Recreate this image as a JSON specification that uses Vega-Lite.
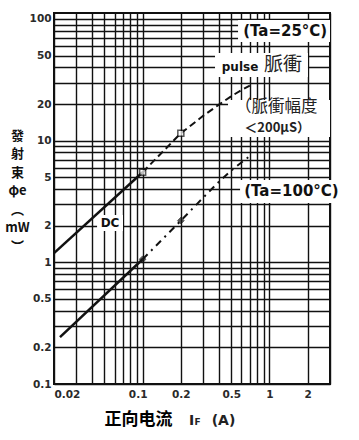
{
  "$schema": "https://vega.github.io/schema/vega-lite/v6.json",
  "width": 276,
  "height": 371,
  "autosize": {"type": "none"},
  "padding": {"left": 54, "top": 13, "right": 29, "bottom": 56},
  "background": "white",
  "config": {
    "view": {"stroke": "#111", "strokeWidth": 2},
    "axis": {
      "grid": true, "gridColor": "#111", "gridWidth": 1.4, "gridOpacity": 1,
      "ticks": false, "domain": false,
      "labelFont": "DejaVu Sans", "labelFontWeight": "bold", "labelFontSize": 10.5, "labelColor": "#2a2a2a"
    }
  },
  "datasets": {
    "curves": [
      {"Ta": "25", "mode": "DC", "x": 0.02, "y": 1.19},
      {"Ta": "25", "mode": "DC", "x": 0.1, "y": 5.5},
      {"Ta": "25", "mode": "pulse", "x": 0.1, "y": 5.5},
      {"Ta": "25", "mode": "pulse", "x": 0.2, "y": 11.5},
      {"Ta": "25", "mode": "pulse", "x": 0.3, "y": 16},
      {"Ta": "25", "mode": "pulse", "x": 0.4, "y": 19.8},
      {"Ta": "25", "mode": "pulse", "x": 0.5, "y": 23.2},
      {"Ta": "25", "mode": "pulse", "x": 0.6, "y": 26},
      {"Ta": "25", "mode": "pulse", "x": 0.7, "y": 28.3},
      {"Ta": "100", "mode": "DC", "x": 0.0223, "y": 0.243},
      {"Ta": "100", "mode": "DC", "x": 0.1, "y": 1.06},
      {"Ta": "100", "mode": "pulse", "x": 0.1, "y": 1.06},
      {"Ta": "100", "mode": "pulse", "x": 0.2, "y": 2.2},
      {"Ta": "100", "mode": "pulse", "x": 0.3, "y": 3.4},
      {"Ta": "100", "mode": "pulse", "x": 0.4, "y": 4.6},
      {"Ta": "100", "mode": "pulse", "x": 0.5, "y": 5.7},
      {"Ta": "100", "mode": "pulse", "x": 0.68, "y": 7.3}
    ],
    "markers": [
      {"Ta": "25", "x": 0.1, "y": 5.5},
      {"Ta": "25", "x": 0.2, "y": 11.5},
      {"Ta": "100", "x": 0.1, "y": 1.06},
      {"Ta": "100", "x": 0.2, "y": 2.2}
    ],
    "boxes": [
      {"x": 0.565, "x2": 3.0, "y": 97.9, "y2": 64.6},
      {"x": 0.372, "x2": 2.01, "y": 52.5, "y2": 33.3},
      {"x": 0.471, "x2": 3.0, "y": 21.6, "y2": 10.7},
      {"x": 0.586, "x2": 3.94, "y": 4.75, "y2": 3.07},
      {"x": 0.0437, "x2": 0.07, "y": 2.45, "y2": 1.81}
    ]
  },
  "encoding": {
    "x": {
      "field": "x", "type": "quantitative",
      "scale": {"type": "log", "domain": [0.02, 3], "nice": false},
      "axis": {
        "values": [0.02, 0.03, 0.04, 0.05, 0.06, 0.07, 0.08, 0.09, 0.1, 0.2, 0.3, 0.4, 0.5, 0.6, 0.7, 0.8, 0.9, 1, 2, 3],
        "labelExpr": "indexof([0.02,0.05,0.1,0.2,0.5,1,2], datum.value) >= 0 ? '' + datum.value : ''",
        "labelPadding": 5,
        "labelOffset": {"condition": [{"test": "datum.value == 0.05", "value": -14}, {"test": "datum.value == 0.1", "value": -5}], "value": 0},
        "title": "正向电流",
        "titleFont": "Noto Sans CJK SC", "titleFontSize": 17, "titleFontWeight": "bold", "titleColor": "#000",
        "titleX": 84, "titleY": 35, "titleAlign": "center", "titleBaseline": "middle"
      }
    },
    "y": {
      "field": "y", "type": "quantitative",
      "scale": {"type": "log", "domain": [0.1, 112], "nice": false},
      "axis": {
        "values": [0.1, 0.2, 0.3, 0.4, 0.5, 0.6, 0.7, 0.8, 0.9, 1, 2, 3, 4, 5, 6, 7, 8, 9, 10, 20, 30, 40, 50, 60, 70, 80, 90, 100],
        "labelExpr": "indexof([0.1,0.2,0.5,1,2,5,10,20,50,100], datum.value) >= 0 ? '' + datum.value : ''",
        "labelPadding": 3,
        "title": ["發", "射", "束", "φe", "︵", "mW", "︶"],
        "titleAngle": 0, "titleFont": "Noto Sans CJK TC", "titleFontSize": 13, "titleFontWeight": "bold", "titleColor": "#111",
        "titleLineHeight": 18.5, "titleX": -37, "titleY": 122, "titleAlign": "center", "titleBaseline": "middle"
      }
    }
  },
  "layer": [
    {
      "data": {"name": "boxes"},
      "mark": {"type": "rect", "fill": "white"},
      "encoding": {"x2": {"field": "x2"}, "y2": {"field": "y2"}}
    },
    {
      "data": {"name": "curves"},
      "transform": [{"filter": "datum.mode == 'DC'"}],
      "mark": {"type": "line", "color": "#111", "strokeWidth": 2.5},
      "encoding": {"detail": {"field": "Ta"}}
    },
    {
      "data": {"name": "curves"},
      "transform": [{"filter": "datum.mode == 'pulse' && datum.Ta == '25'"}],
      "mark": {"type": "line", "color": "#111", "strokeWidth": 2, "strokeDash": [7, 4]},
      "encoding": {}
    },
    {
      "data": {"name": "curves"},
      "transform": [{"filter": "datum.mode == 'pulse' && datum.Ta == '100'"}],
      "mark": {"type": "line", "color": "#111", "strokeWidth": 2, "strokeDash": [7, 5, 2, 5]},
      "encoding": {}
    },
    {
      "data": {"name": "markers"},
      "transform": [{"filter": "datum.Ta == '25'"}],
      "mark": {"type": "point", "shape": "square", "size": 36, "filled": true, "fill": "white", "stroke": "#111", "strokeWidth": 1.5}
    },
    {
      "data": {"name": "markers"},
      "transform": [{"filter": "datum.Ta == '100'"}],
      "mark": {"type": "point", "shape": "diamond", "size": 45, "filled": true, "fill": "#111", "stroke": "#111", "strokeWidth": 1}
    },
    {
      "data": {"values": [{"label": "(Ta=25°C)", "x": 1.33, "y": 79.6}, {"label": "(Ta=100°C)", "x": 1.49, "y": 3.85}]},
      "mark": {"type": "text", "font": "DejaVu Sans", "fontWeight": "bold", "fontSize": 15, "color": "#111", "baseline": "middle", "align": "center"},
      "encoding": {"text": {"field": "label"}}
    },
    {
      "data": {"values": [{"label": "pulse", "x": 0.586, "y": 40.2}, {"label": "DC", "x": 0.0553, "y": 2.1}]},
      "mark": {"type": "text", "font": "DejaVu Sans", "fontWeight": "bold", "fontSize": 12, "color": "#111", "baseline": "middle", "align": "center"},
      "encoding": {"text": {"field": "label"}}
    },
    {
      "data": {"values": [{"label": "脈衝", "x": 1.28, "y": 41.8}]},
      "mark": {"type": "text", "font": "Noto Sans CJK TC", "fontSize": 19, "color": "#222", "baseline": "middle", "align": "center"},
      "encoding": {"text": {"field": "label"}}
    },
    {
      "data": {"values": [{"label": "（脈衝幅度", "x": 1.13, "y": 18.9}]},
      "mark": {"type": "text", "font": "Noto Sans CJK TC", "fontSize": 16.5, "color": "#222", "baseline": "middle", "align": "center"},
      "encoding": {"text": {"field": "label"}}
    },
    {
      "data": {"values": [{"label": "＜200μS）", "x": 1.15, "y": 12.7}]},
      "mark": {"type": "text", "font": "Noto Sans CJK TC", "fontWeight": "bold", "fontSize": 13, "color": "#222", "baseline": "middle", "align": "center"},
      "encoding": {"text": {"field": "label"}}
    },
    {
      "data": {"values": [{"label": "I", "x": 0.243, "y": 0.046}, {"label": "(A)", "x": 0.434, "y": 0.046}]},
      "mark": {"type": "text", "font": "DejaVu Sans", "fontWeight": "bold", "fontSize": 14, "color": "#222", "baseline": "alphabetic", "align": "center"},
      "encoding": {"text": {"field": "label"}}
    },
    {
      "data": {"values": [{"label": "F", "x": 0.271, "y": 0.046}]},
      "mark": {"type": "text", "font": "DejaVu Sans", "fontWeight": "bold", "fontSize": 9, "color": "#222", "baseline": "alphabetic", "align": "center"},
      "encoding": {"text": {"field": "label"}}
    }
  ]
}
